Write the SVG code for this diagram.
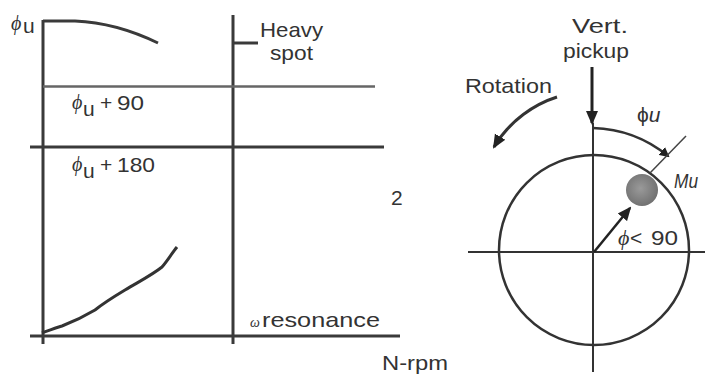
<svg xmlns="http://www.w3.org/2000/svg" width="705" height="374" viewBox="0 0 705 374">
<defs>
<style>
.ax{stroke:#3a3a3a;stroke-width:3;fill:none;stroke-linecap:butt}
.thin{stroke:#333;stroke-width:2;fill:none}
.t{font-family:"Liberation Sans",Arial,sans-serif;fill:#333;font-size:21px}
.g{font-family:"Liberation Serif","Times New Roman",serif;font-style:italic;fill:#333}
</style>
<marker id="ah" markerWidth="10" markerHeight="10" refX="8" refY="5" orient="auto" markerUnits="userSpaceOnUse" viewBox="0 0 10 10">
<path d="M0,0 L10,5 L0,10 z" fill="#222"/>
</marker>
<marker id="ah2" markerWidth="14" markerHeight="14" refX="12" refY="7" orient="auto" markerUnits="userSpaceOnUse" viewBox="0 0 14 14">
<path d="M0,1 L14,7 L0,13 z" fill="#222"/>
</marker>
<radialGradient id="ball" cx="0.45" cy="0.45" r="0.6">
<stop offset="0" stop-color="#9a9a9a"/>
<stop offset="1" stop-color="#6e6e6e"/>
</radialGradient>
</defs>

<g id="chart">
<line class="ax" x1="43" y1="20" x2="43" y2="344"/>
<line class="ax" x1="233" y1="15" x2="233" y2="344"/>
<line class="ax" x1="233" y1="43" x2="258" y2="43"/>
<line x1="43" y1="86.5" x2="375" y2="86.5" stroke="#666" stroke-width="2.5"/>
<line class="ax" x1="30" y1="147" x2="384" y2="147"/>
<line class="ax" x1="30" y1="336" x2="400" y2="336"/>
<path class="ax" d="M43,21 L75,21 C100,22 125,27 158,43"/>
<path d="M42,333 C50,330 55,328 62,326 C75,321 85,316 95,310 C105,302 115,296 125,290 C140,281 152,275 162,267 C168,260 172,253 177,247" stroke="#333" stroke-width="3" fill="none"/>
</g>

<g id="chart-labels">
<text class="g" x="11" y="30" font-size="20">ϕ</text><text class="t" x="23" y="33" font-size="17">u</text>
<text class="t" x="260" y="37" textLength="63" lengthAdjust="spacingAndGlyphs">Heavy</text>
<text class="t" x="270" y="60" textLength="43" lengthAdjust="spacingAndGlyphs">spot</text>
<text class="g" x="72" y="109" font-size="20">ϕ</text><text class="t" x="83" y="116" font-size="19">u</text>
<text class="t" x="100" y="110">+</text><text class="t" x="117" y="110" textLength="27" lengthAdjust="spacingAndGlyphs">90</text>
<text class="g" x="72" y="171" font-size="20">ϕ</text><text class="t" x="83" y="178" font-size="19">u</text>
<text class="t" x="100" y="172">+</text><text class="t" x="117" y="172" textLength="38" lengthAdjust="spacingAndGlyphs">180</text>
<text class="t" x="391" y="205">2</text>
<text class="g" x="250" y="327" font-size="14">ω</text>
<text class="t" x="262" y="327" textLength="118" lengthAdjust="spacingAndGlyphs">resonance</text>
<text class="t" x="382" y="370" textLength="66" lengthAdjust="spacingAndGlyphs">N-rpm</text>
</g>

<g id="rotor">
<circle cx="594" cy="250" r="95" fill="none" stroke="#333" stroke-width="2.5"/>
<line class="thin" x1="593" y1="123" x2="593" y2="372"/>
<line class="thin" x1="468" y1="252" x2="705" y2="252"/>
<circle cx="642" cy="190" r="16" fill="url(#ball)"/>
</g>

<g id="connectors">
<line x1="592" y1="67" x2="592" y2="123" stroke="#222" stroke-width="3" marker-end="url(#ah2)"/>
<path d="M593,128 A124,124 0 0 1 668,156" stroke="#333" stroke-width="2.5" fill="none" marker-end="url(#ah)"/>
<line x1="650" y1="173" x2="686" y2="136" stroke="#444" stroke-width="1.5"/>
<line x1="594" y1="252" x2="630" y2="208" stroke="#222" stroke-width="2.5" marker-end="url(#ah2)"/>
<path d="M557,97 C535,104 510,120 494,147" stroke="#333" stroke-width="3" fill="none" marker-end="url(#ah2)"/>
</g>

<g id="rotor-labels">
<text class="t" x="572" y="33" font-size="23" textLength="56" lengthAdjust="spacingAndGlyphs">Vert.</text>
<text class="t" x="563" y="58" font-size="23" textLength="66" lengthAdjust="spacingAndGlyphs">pickup</text>
<text class="t" x="465" y="93" textLength="87" lengthAdjust="spacingAndGlyphs">Rotation</text>
<text class="t" x="637" y="122" font-size="21">ϕ<tspan font-style="italic">u</tspan></text>
<text class="t" x="674" y="188" font-size="20" font-style="italic" textLength="24" lengthAdjust="spacingAndGlyphs">Mu</text>
<text class="g" x="618" y="245" font-size="22">ϕ</text>
<text class="t" x="630" y="245">&lt;</text><text class="t" x="651" y="245" textLength="27" lengthAdjust="spacingAndGlyphs">90</text>
</g>
</svg>
